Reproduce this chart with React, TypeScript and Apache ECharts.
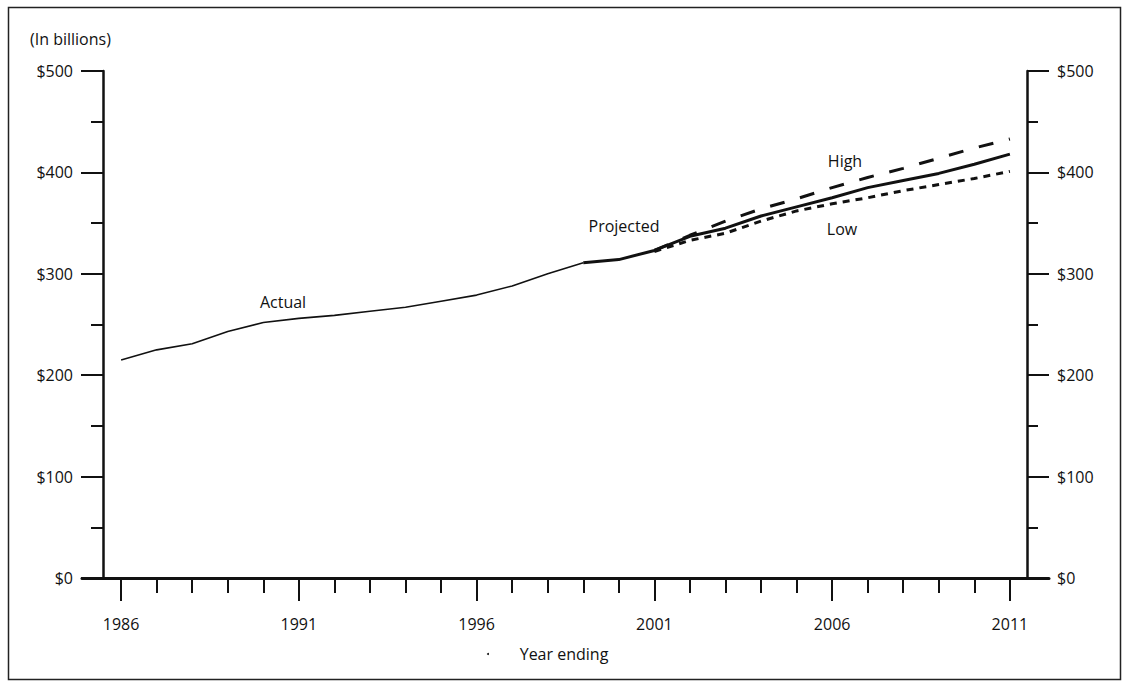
import React, { useEffect, useRef } from "react";
import * as echarts from "echarts";

const actualYears = [1986, 1987, 1988, 1989, 1990, 1991, 1992, 1993, 1994, 1995, 1996, 1997, 1998, 1999];
const actualValues = [215, 225, 231, 243, 252, 256, 259, 263, 267, 273, 279, 288, 300, 311];

const projYears = [1999, 2000, 2001, 2002, 2003, 2004, 2005, 2006, 2007, 2008, 2009, 2010, 2011];
const projValues = [311, 314, 323, 337, 345, 357, 366, 375, 385, 392, 399, 408, 418];

const rangeYears = [2001, 2002, 2003, 2004, 2005, 2006, 2007, 2008, 2009, 2010, 2011];
const highValues = [323, 338, 352, 364, 374, 385, 395, 404, 414, 424, 433];
const lowValues = [322, 333, 340, 352, 362, 369, 375, 382, 388, 394, 401];

const allYears = [
  1986, 1987, 1988, 1989, 1990, 1991, 1992, 1993, 1994, 1995, 1996, 1997, 1998,
  1999, 2000, 2001, 2002, 2003, 2004, 2005, 2006, 2007, 2008, 2009, 2010, 2011,
];
const labelYears = [1986, 1991, 1996, 2001, 2006, 2011];

const INK = "#111111";
const FONT = "Open Sans";

const pairs = (xs: number[], ys: number[]) => xs.map((x, i) => [x, ys[i]]);

export default function App() {
  const ref = useRef<HTMLDivElement>(null);

  useEffect(() => {
    if (!ref.current) return;
    const chart = echarts.init(ref.current, undefined, { renderer: "svg" });

    const xCommon = {
      type: "value" as const,
      min: 1984.9,
      max: 2012.1,
      position: "bottom" as const,
      gridIndex: 0,
      splitLine: { show: false },
    };

    const yCommon = {
      type: "value" as const,
      min: 0,
      max: 500,
      interval: 100,
      splitLine: { show: false },
      axisLine: { show: true, onZero: false, lineStyle: { color: INK, width: 2.5 } },
      axisTick: { show: true, length: 22, lineStyle: { color: INK, width: 2 } },
      minorTick: { show: true, splitNumber: 2, length: 12, lineStyle: { color: INK, width: 2 } },
      minorSplitLine: { show: false },
      axisLabel: {
        show: true,
        margin: 30,
        color: INK,
        fontFamily: FONT,
        fontSize: 16,
        formatter: (v: number) => "$" + v,
      },
    };

    const textStyle = { fill: INK, font: `16px "${FONT}"`, align: "center", verticalAlign: "middle" };

    chart.setOption({
      animation: false,
      backgroundColor: "#ffffff",
      grid: { left: 82, right: 78, top: 71, bottom: 104, containLabel: false },
      xAxis: [
        {
          ...xCommon,
          axisLine: { show: true, onZero: false, lineStyle: { color: INK, width: 3 } },
          axisTick: { show: true, length: 15, customValues: allYears, lineStyle: { color: INK, width: 2 } },
          axisLabel: { show: false },
        },
        {
          ...xCommon,
          axisLine: { show: false, onZero: false },
          axisTick: { show: true, length: 23, customValues: labelYears, lineStyle: { color: INK, width: 2 } },
          axisLabel: {
            show: true,
            customValues: labelYears,
            margin: 38,
            color: INK,
            fontFamily: FONT,
            fontSize: 16,
            formatter: (v: number) => String(v),
          },
        },
      ],
      yAxis: [
        { ...yCommon, position: "left", offset: -21 },
        {
          ...yCommon,
          position: "right",
          offset: -22,
          axisTick: { show: true, length: 22, lineStyle: { color: INK, width: 2 } },
          minorTick: { show: true, splitNumber: 2, length: 11, lineStyle: { color: INK, width: 2 } },
        },
      ],
      series: [
        {
          name: "Actual",
          type: "line",
          xAxisIndex: 0,
          yAxisIndex: 0,
          data: pairs(actualYears, actualValues),
          showSymbol: false,
          lineStyle: { color: INK, width: 1.6 },
        },
        {
          name: "Projected",
          type: "line",
          xAxisIndex: 0,
          yAxisIndex: 0,
          data: pairs(projYears, projValues),
          showSymbol: false,
          lineStyle: { color: INK, width: 3 },
        },
        {
          name: "High",
          type: "line",
          xAxisIndex: 0,
          yAxisIndex: 0,
          data: pairs(rangeYears, highValues),
          showSymbol: false,
          lineStyle: { color: INK, width: 3, type: [15, 16] },
        },
        {
          name: "Low",
          type: "line",
          xAxisIndex: 0,
          yAxisIndex: 0,
          data: pairs(rangeYears, lowValues),
          showSymbol: false,
          lineStyle: { color: INK, width: 3, type: [7, 6] },
        },
      ],
      graphic: [
        {
          type: "rect",
          shape: { x: 8.5, y: 7.5, width: 1112, height: 672 },
          style: { fill: "none", stroke: "#222222", lineWidth: 1.5 },
          silent: true,
        },
        {
          type: "text",
          x: 30,
          y: 39,
          style: { ...textStyle, text: "(In billions)", align: "left" },
        },
        { type: "text", x: 283, y: 302, style: { ...textStyle, text: "Actual" } },
        { type: "text", x: 624, y: 226, style: { ...textStyle, text: "Projected" } },
        { type: "text", x: 845, y: 161, style: { ...textStyle, text: "High" } },
        { type: "text", x: 842, y: 229, style: { ...textStyle, text: "Low" } },
        { type: "text", x: 564, y: 654, style: { ...textStyle, text: "Year ending" } },
        { type: "circle", shape: { cx: 488, cy: 654, r: 1 }, style: { fill: INK } },
      ],
    });

    return () => chart.dispose();
  }, []);

  return (
    <div
      ref={ref}
      style={{ position: "absolute", left: 0, top: 0, width: 1127, height: 682, background: "#fff" }}
    />
  );
}
